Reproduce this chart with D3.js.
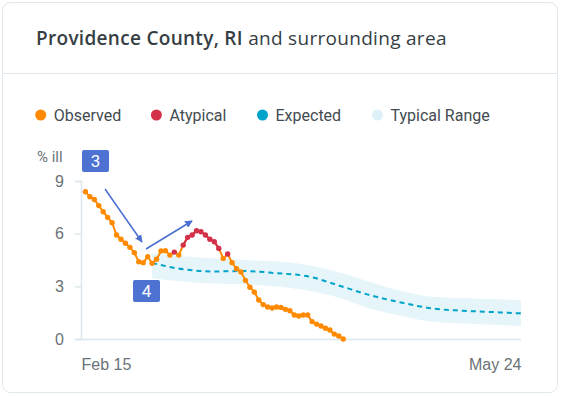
<!DOCTYPE html>
<html>
<head>
<meta charset="utf-8">
<script src="https://cdn.jsdelivr.net/npm/d3@7"></script>
<style>
  body { margin: 0; background: #fff; }
  svg { display: block; font-family: Roboto, "Noto Sans", sans-serif; }
</style>
</head>
<body>
<div id="chart"></div>
<script>
width = 561
height = 396

// observed % ill, one value per day starting Feb 16
observedStart = new Date(2020, 1, 16)
observed = [8.39, 8.1, 7.95, 7.6, 7.25, 6.93, 6.62, 5.92, 5.68, 5.45,
            5.22, 4.92, 4.4, 4.35, 4.69, 4.31, 4.54, 5.01, 5.03, 4.78,
            4.95, 4.78, 5.35, 5.79, 5.92, 6.17, 6.11, 5.92, 5.68, 5.54,
            5.16, 4.59, 4.84, 4.35, 4.0, 3.82, 3.34, 2.95, 2.67, 2.22,
            1.96, 1.82, 1.77, 1.82, 1.8, 1.69, 1.61, 1.37, 1.31, 1.37,
            1.37, 0.99, 0.85, 0.74, 0.61, 0.51, 0.28, 0.17, 0.0]
// day indexes (into observed) flagged atypical
atypicalDays = [20, 22, 23, 24, 25, 26, 27, 28, 29, 30, 32]

// expected and typical range, read weekly
expectedDates = ["2020-03-02", "2020-03-09", "2020-03-16", "2020-03-23", "2020-03-30", "2020-04-06",
                 "2020-04-13", "2020-04-20", "2020-04-27", "2020-05-04", "2020-05-11", "2020-05-18", "2020-05-24"]
expected = [4.33, 3.97, 3.85, 3.87, 3.75, 3.57, 3.05, 2.5, 2.08, 1.74, 1.61, 1.53, 1.46]
rangeHigh = [4.88, 4.71, 4.59, 4.5, 4.41, 4.22, 3.8, 3.25, 2.74, 2.4, 2.32, 2.27, 2.22]
rangeLow = [3.46, 3.28, 3.16, 3.11, 2.99, 2.76, 2.35, 1.74, 1.32, 0.98, 0.89, 0.81, 0.74]

yTicks = [0, 3, 6, 9]
xTickDates = [new Date(2020, 1, 15), new Date(2020, 4, 24)]

legendItems = ["Observed", "Atypical", "Expected", "Typical Range"]
legendColors = ["#ff8a00", "#d3304a", "#00a3c9", "#def1f8"]

const parse = d3.timeParse("%Y-%m-%d")

const obsData = observed.map((v, i) => ({
  date: d3.timeDay.offset(observedStart, i),
  value: v,
  atypical: atypicalDays.includes(i)
}))
const expData = expectedDates.map((d, i) => ({
  date: parse(d), value: expected[i], hi: rangeHigh[i], lo: rangeLow[i]
}))

const x = d3.scaleTime().domain(xTickDates).range([81, 521])
const y = d3.scaleLinear().domain([0, 9]).range([339, 181])

const svg = d3.select("#chart").append("svg")
    .attr("width", width)
    .attr("height", height)

// card
svg.append("rect")
    .attr("x", 2.5).attr("y", 2.5)
    .attr("width", 555).attr("height", 390)
    .attr("rx", 8)
    .attr("fill", "#fff")
    .attr("stroke", "#dfe8ec")

svg.append("line")
    .attr("x1", 3).attr("x2", 557)
    .attr("y1", 73.5).attr("y2", 73.5)
    .attr("stroke", "#dfe8ec")

const title = svg.append("text")
    .attr("x", 36).attr("y", 45)
    .attr("font-family", "'Open Sans', Roboto, sans-serif")
    .attr("font-size", 19)
    .attr("letter-spacing", 0.3)
    .attr("fill", "#363e44")
title.append("tspan").attr("font-weight", 600).text("Providence County, RI")
title.append("tspan").text(" and surrounding area")

// legend
const legendX = [40.7, 156.4, 262.5, 377.5]
const legend = svg.selectAll(".legend")
    .data(legendItems)
    .enter().append("g")
    .attr("class", "legend")
    .attr("transform", (d, i) => `translate(${legendX[i]},115)`)
legend.append("circle")
    .attr("r", 5.5)
    .attr("fill", (d, i) => legendColors[i])
legend.append("text")
    .attr("x", 13).attr("y", 5.5)
    .attr("font-size", 16)
    .attr("fill", "#444b50")
    .text(d => d)

// axes
const yAxis = svg.append("g")
    .attr("transform", "translate(81,0)")
    .call(d3.axisLeft(y).tickValues(yTicks).tickSize(6).tickPadding(11))
const xAxis = svg.append("g")
    .attr("transform", "translate(0,339)")
    .call(d3.axisBottom(x).tickValues(xTickDates).tickSize(0).tickPadding(20)
      .tickFormat(d3.timeFormat("%b %-d")))
xAxis.select(".domain").attr("d", "M75,0.5H521")
svg.selectAll(".domain, .tick line").attr("stroke", "#dce8ee").attr("stroke-width", 1.5)
svg.selectAll(".tick text").attr("fill", "#6b7378").attr("font-size", 16).attr("font-family", null)
xAxis.selectAll(".tick text")
    .attr("text-anchor", (d, i) => i === 0 ? "start" : "end")

svg.append("text")
    .attr("x", 37).attr("y", 161.5)
    .attr("font-size", 15)
    .attr("fill", "#6b7378")
    .text("% ill")

// typical range band + expected
svg.append("path")
    .datum(expData)
    .attr("fill", "#e6f5fa")
    .attr("d", d3.area().curve(d3.curveMonotoneX)
      .x(d => x(d.date)).y0(d => y(d.lo)).y1(d => y(d.hi)))

svg.append("path")
    .datum(expData)
    .attr("fill", "none")
    .attr("stroke", "#00a3c9")
    .attr("stroke-width", 2)
    .attr("stroke-dasharray", "5,4")
    .attr("d", d3.line().curve(d3.curveMonotoneX)
      .x(d => x(d.date)).y(d => y(d.value)))

// observed
svg.append("path")
    .datum(obsData)
    .attr("fill", "none")
    .attr("stroke", "#ff8a00")
    .attr("stroke-width", 2)
    .attr("d", d3.line().x(d => x(d.date)).y(d => y(d.value)))

svg.append("path")
    .datum(obsData)
    .attr("fill", "none")
    .attr("stroke", "#d3304a")
    .attr("stroke-width", 2)
    .attr("d", d3.line().defined(d => d.atypical).x(d => x(d.date)).y(d => y(d.value)))

svg.selectAll(".dot")
    .data(obsData)
    .enter().append("circle")
    .attr("class", "dot")
    .attr("cx", d => x(d.date))
    .attr("cy", d => y(d.value))
    .attr("r", 2.7)
    .attr("fill", d => d.atypical ? "#d3304a" : "#ff8a00")

// annotations
svg.append("defs").append("marker")
    .attr("id", "arrowhead")
    .attr("viewBox", "0 -5 10 10")
    .attr("refX", 9).attr("refY", 0)
    .attr("orient", "auto")
    .attr("markerWidth", 5).attr("markerHeight", 5)
  .append("path")
    .attr("d", "M0,-5L10,0L0,5")
    .attr("fill", "#4a6fd1")

const arrows = [
  {x1: 105, y1: 189, x2: 142, y2: 242},
  {x1: 146, y1: 249, x2: 192, y2: 221}
]
svg.selectAll(".arrow")
    .data(arrows)
    .enter().append("line")
    .attr("class", "arrow")
    .attr("x1", d => d.x1).attr("y1", d => d.y1)
    .attr("x2", d => d.x2).attr("y2", d => d.y2)
    .attr("stroke", "#4a6fd1")
    .attr("stroke-width", 1.5)
    .attr("marker-end", "url(#arrowhead)")

const badges = [
  {label: "3", x: 82, y: 150},
  {label: "4", x: 133, y: 280}
]
const badge = svg.selectAll(".badge")
    .data(badges)
    .enter().append("g")
    .attr("class", "badge")
    .attr("transform", d => `translate(${d.x},${d.y})`)
badge.append("rect")
    .attr("width", 27).attr("height", 22)
    .attr("rx", 2)
    .attr("fill", "#4d72d2")
badge.append("text")
    .attr("x", 13.5).attr("y", 17)
    .attr("text-anchor", "middle")
    .attr("font-size", 17)
    .attr("fill", "#fff")
    .text(d => d.label)
</script>
</body>
</html>
